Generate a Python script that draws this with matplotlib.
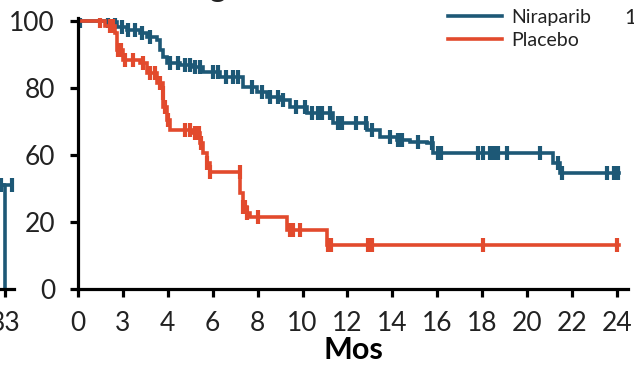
'''Kaplan-Meier style plot, niraparib vs placebo'''
import numpy as np
import matplotlib
matplotlib.use('Agg')
import matplotlib.pyplot as plt

plt.rcParams['font.family'] = ['Lato', 'DejaVu Sans']

# Step curves (months, survival on the axis scale 0-100)
nira_t = [0, 1.42, 1.74, 2.18, 2.76, 3.07, 3.52, 3.65, 3.78, 3.96, 4.54, 5.12,
          5.57, 6.32, 7.35, 7.97, 8.42, 8.99, 9.44, 10.20, 11.35, 12.87, 13.45,
          14.20, 14.78, 15.54, 15.81, 21.15, 21.46, 24.1]
nira_s = [100, 99.6, 97.8, 96.6, 95.5, 94.0, 92.9, 89.2, 86.6, 84.3, 83.6, 82.8,
          81.0, 79.1, 75.4, 73.5, 71.6, 70.5, 67.9, 65.7, 61.9, 59.3, 56.7,
          55.6, 54.9, 54.5, 50.7, 47.0, 43.3, 43.3]
nira_cens = [0.09, 1.34, 1.65, 1.96, 2.23, 2.54, 2.85, 3.21, 4.10, 4.45, 4.76,
             4.99, 5.21, 5.43, 6.01, 6.23, 6.59, 6.90, 7.12, 7.75, 8.19, 8.55,
             8.90, 9.13, 9.71, 10.11, 10.42, 10.69, 10.86, 11.22, 11.58, 11.75,
             12.38, 12.82, 13.09, 13.89, 14.25, 14.43, 15.14, 15.76, 16.03,
             16.16, 17.81, 18.03, 18.34, 18.52, 18.70, 19.10, 20.57, 21.37,
             21.55, 23.55, 23.86, 24.04]

plac_t = [0, 1.2, 1.65, 1.74, 2.0, 2.76, 3.07, 3.52, 3.78, 3.8, 3.96, 4.1, 5.12,
          5.43, 5.57, 5.74, 5.88, 7.23, 7.35, 7.52, 7.66, 9.3, 11.1, 24.1]
plac_s = [100, 98, 95.5, 89.2, 85.4, 84.3, 80.6, 76.9, 73.1, 67.9, 63.1, 59.3,
          58.2, 54.5, 50.7, 47.0, 43.7, 35.8, 30.6, 28.4, 26.9, 22.0, 16.4, 16.4]
plac_cens = [0.98, 1.42, 1.56, 1.78, 1.91, 2.09, 2.45, 2.89, 3.21, 3.43, 3.65,
             3.78, 3.87, 4.01, 4.76, 4.99, 5.21, 5.39, 5.48, 5.74, 5.88, 7.21,
             7.35, 7.44, 7.52, 8.01, 9.44, 9.57, 9.88, 11.13, 11.26, 12.91,
             13.09, 18.03, 24.0]

x_ticks = [0, 2, 4, 6, 8, 10, 12, 14, 16, 18, 20, 22, 24]
x_labels = ['0', '3', '4', '6', '8', '10', '12', '14', '16', '18', '20', '22', '24']
y_ticks = [0, 25, 50, 75, 100]
y_labels = ['0', '20', '60', '80', '100']

# tail of the neighbouring panel, cut by the crop
prev_t = [30.0, 33.0]
prev_s = [38.8, 0.0]
prev2_t = [30.0, 34.0]
prev2_s = [38.8, 38.8]
prev_cens = [32.6, 33.8]

BLUE = '#1d5876'
RED = '#e24a2d'
W, H = 634, 369
LW = 2.6


def step_at(times, surv, c):
    i = np.searchsorted(times, c, side='right') - 1
    return np.array(surv)[np.clip(i, 0, len(surv) - 1)]


def km(ax, t, s, cens, color, label=None):
    ax.plot(t, s, drawstyle='steps-post', color=color, linewidth=LW,
            label=label, solid_joinstyle='miter')
    ax.plot(cens, step_at(t, s, cens), linestyle='none', marker='|',
            markersize=10, markeredgewidth=3, color=color)


def style(ax):
    for sp in ('top', 'right'):
        ax.spines[sp].set_visible(False)
    for sp in ('left', 'bottom'):
        ax.spines[sp].set_linewidth(2.3)
    ax.tick_params(direction='out', length=5.5, width=2.3, labelsize=19,
                   colors='black', labelcolor='#222222')


fig = plt.figure(figsize=(W / 100, H / 100), dpi=100)

bottom = (H - 289) / H
height = (289 - 18.3) / H

# neighbouring panel fragment
ax0 = fig.add_axes([-300 / W, bottom, 314 / W, height])
km(ax0, prev2_t, prev2_s, prev_cens, BLUE)
ax0.plot(prev_t, prev_s, drawstyle='steps-post', color=BLUE, linewidth=LW)
ax0.set_xlim(0, 34)
ax0.set_ylim(0, 101)
style(ax0)
ax0.spines['left'].set_visible(False)
ax0.set_yticks([])
ax0.set_xticks([33])
ax0.set_xticklabels(['33'])
ax0.tick_params(axis='x', pad=10)

# main panel
ax = fig.add_axes([78 / W, bottom, 550 / W, height])
km(ax, nira_t, nira_s, nira_cens, BLUE, 'Niraparib')
km(ax, plac_t, plac_s, plac_cens, RED, 'Placebo')
ax.set_xlim(0, 24.49)
ax.set_ylim(0, 101)
style(ax)
ax.set_xticks(x_ticks)
ax.set_xticklabels(x_labels)
ax.set_yticks(y_ticks)
ax.set_yticklabels(y_labels)
ax.tick_params(axis='x', pad=10)
ax.tick_params(axis='y', pad=11)
ax.set_xlabel('Mos', fontsize=22, fontweight='bold', labelpad=0)

handles = [plt.Line2D([], [], color=BLUE, linewidth=LW),
           plt.Line2D([], [], color=RED, linewidth=LW)]
fig.legend(handles, ['Niraparib', 'Placebo'], loc='upper left',
           bbox_to_anchor=(448 / W, 1 - 9 / H), frameon=False, fontsize=14,
           handlelength=2.8, handletextpad=0.45, labelspacing=0.3,
           borderpad=0, borderaxespad=0, labelcolor='#222222')

# bits of neighbouring text cut by the crop
fig.text(217 / W, 1 + 3 / H, 'g', fontsize=22, fontweight='bold',
         ha='center', va='baseline', color='#222222')
fig.text(624 / W, 1 - 17.5 / H, '100', fontsize=15, ha='left', va='center',
         color='#222222')

plt.savefig('out.png', dpi=100)
